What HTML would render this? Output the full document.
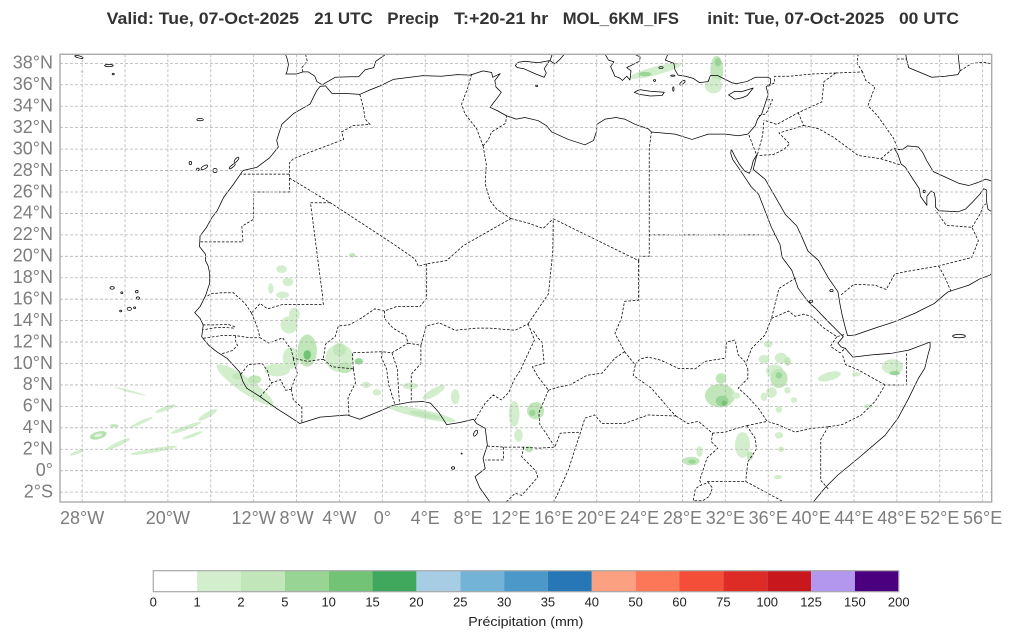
<!DOCTYPE html>
<html><head><meta charset="utf-8"><style>
html,body{margin:0;padding:0;background:#fff;}
svg{display:block;}
.tt{font-family:"Liberation Sans",sans-serif;font-weight:bold;font-size:17px;fill:#333;}
.yl{font-family:"Liberation Sans",sans-serif;font-size:18px;fill:#7d7d7d;text-anchor:end;}
.xl{font-family:"Liberation Sans",sans-serif;font-size:18px;fill:#7d7d7d;text-anchor:middle;}
.cl{font-family:"Liberation Sans",sans-serif;font-size:13px;fill:#222;text-anchor:middle;}
</style></head><body>
<svg xmlns="http://www.w3.org/2000/svg" width="1011" height="641" viewBox="0 0 1011 641">
<rect width="1011" height="641" fill="#fff"/>
<defs><clipPath id="c"><rect x="60" y="54.3" width="931.7" height="447.7"/></clipPath></defs>

<!-- title -->
<text class="tt" x="106.7" y="24" textLength="192.3" lengthAdjust="spacingAndGlyphs">Valid: Tue, 07-Oct-2025</text>
<text class="tt" x="314.3" y="24" textLength="58.4" lengthAdjust="spacingAndGlyphs">21 UTC</text>
<text class="tt" x="387.3" y="24" textLength="51.7" lengthAdjust="spacingAndGlyphs">Precip</text>
<text class="tt" x="454" y="24" textLength="94.3" lengthAdjust="spacingAndGlyphs">T:+20-21 hr</text>
<text class="tt" x="562.7" y="24" textLength="116.3" lengthAdjust="spacingAndGlyphs">MOL_6KM_IFS</text>
<text class="tt" x="707.3" y="24" textLength="177" lengthAdjust="spacingAndGlyphs">init: Tue, 07-Oct-2025</text>
<text class="tt" x="899" y="24" textLength="60" lengthAdjust="spacingAndGlyphs">00 UTC</text>

<g clip-path="url(#c)">
<g transform="matrix(10.72 0 0 -10.72 382.3 470.7)">
<!-- precipitation patches -->
<g stroke="none">
<ellipse cx="-28.5" cy="1.7" rx="0.7" ry="0.15" transform="rotate(20 -28.5 1.7)" fill="#d3eecd"/>
<ellipse cx="-26.5" cy="3.3" rx="0.8" ry="0.35" transform="rotate(15 -26.5 3.3)" fill="#b6e0ae"/>
<ellipse cx="-26.5" cy="3.3" rx="0.4" ry="0.15" transform="rotate(15 -26.5 3.3)" fill="#e6f5e3"/>
<ellipse cx="-24.6" cy="2.5" rx="1.2" ry="0.2" transform="rotate(25 -24.6 2.5)" fill="#d3eecd"/>
<ellipse cx="-21.3" cy="1.9" rx="2.2" ry="0.2" transform="rotate(10 -21.3 1.9)" fill="#d3eecd"/>
<ellipse cx="-20.2" cy="5.8" rx="1.0" ry="0.2" transform="rotate(20 -20.2 5.8)" fill="#d3eecd"/>
<ellipse cx="-18.3" cy="4.0" rx="1.5" ry="0.2" transform="rotate(20 -18.3 4.0)" fill="#d3eecd"/>
<ellipse cx="-17.7" cy="3.3" rx="1.0" ry="0.15" transform="rotate(20 -17.7 3.3)" fill="#d3eecd"/>
<ellipse cx="-16.3" cy="5.2" rx="1.0" ry="0.25" transform="rotate(30 -16.3 5.2)" fill="#d3eecd"/>
<ellipse cx="-22.5" cy="4.5" rx="1.2" ry="0.15" transform="rotate(25 -22.5 4.5)" fill="#d3eecd"/>
<ellipse cx="-23.5" cy="7.4" rx="1.5" ry="0.1" transform="rotate(-15 -23.5 7.4)" fill="#d3eecd"/>
<ellipse cx="-25.0" cy="4.2" rx="0.4" ry="0.15" fill="#c0e6b9"/>
<ellipse cx="-12.8" cy="8.0" rx="3.2" ry="0.7" transform="rotate(-35 -12.8 8.0)" fill="#d3eecd"/>
<ellipse cx="-13.5" cy="8.8" rx="0.5" ry="0.3" fill="#c0e6b9"/>
<ellipse cx="-11.9" cy="8.5" rx="0.6" ry="0.4" fill="#c0e6b9"/>
<ellipse cx="-9.8" cy="9.4" rx="1.2" ry="0.6" fill="#d3eecd"/>
<ellipse cx="-8.5" cy="10.5" rx="0.8" ry="1.0" fill="#d3eecd"/>
<ellipse cx="-7.0" cy="11.2" rx="0.9" ry="1.5" fill="#c0e6b9"/>
<ellipse cx="-7.0" cy="10.8" rx="0.35" ry="0.45" fill="#72c375"/>
<ellipse cx="-8.7" cy="13.6" rx="0.8" ry="0.8" fill="#d3eecd"/>
<ellipse cx="-8.2" cy="14.6" rx="0.5" ry="0.6" fill="#d3eecd"/>
<ellipse cx="-4.0" cy="10.5" rx="1.3" ry="1.3" fill="#d3eecd"/>
<ellipse cx="-4.0" cy="11.3" rx="0.6" ry="0.6" fill="#c0e6b9"/>
<ellipse cx="-3.5" cy="9.6" rx="0.7" ry="0.5" fill="#c0e6b9"/>
<ellipse cx="-2.2" cy="10.2" rx="0.4" ry="0.3" fill="#99d595"/>
<ellipse cx="-1.5" cy="8.0" rx="0.4" ry="0.3" fill="#d3eecd"/>
<ellipse cx="-10.4" cy="17.0" rx="0.25" ry="0.5" fill="#d3eecd"/>
<ellipse cx="-9.3" cy="16.4" rx="0.6" ry="0.3" fill="#d3eecd"/>
<ellipse cx="-8.8" cy="17.6" rx="0.5" ry="0.4" fill="#d3eecd"/>
<ellipse cx="-9.4" cy="18.8" rx="0.5" ry="0.35" fill="#d3eecd"/>
<ellipse cx="-2.8" cy="20.1" rx="0.3" ry="0.2" fill="#c0e6b9"/>
<ellipse cx="3.7" cy="5.3" rx="3.2" ry="0.4" transform="rotate(-12 3.7 5.3)" fill="#d3eecd"/>
<ellipse cx="4.0" cy="5.2" rx="1.5" ry="0.25" transform="rotate(-12 4.0 5.2)" fill="#c0e6b9"/>
<ellipse cx="4.8" cy="7.3" rx="1.2" ry="0.35" transform="rotate(30 4.8 7.3)" fill="#d3eecd"/>
<ellipse cx="6.8" cy="6.9" rx="0.4" ry="0.7" fill="#d3eecd"/>
<ellipse cx="2.6" cy="7.9" rx="0.7" ry="0.3" fill="#d3eecd"/>
<ellipse cx="-0.5" cy="7.3" rx="0.4" ry="0.3" fill="#d3eecd"/>
<ellipse cx="12.3" cy="5.3" rx="0.5" ry="1.2" fill="#d3eecd"/>
<ellipse cx="12.7" cy="3.3" rx="0.4" ry="0.6" fill="#d3eecd"/>
<ellipse cx="14.3" cy="5.6" rx="0.8" ry="0.8" fill="#c0e6b9"/>
<ellipse cx="14.0" cy="5.4" rx="0.3" ry="0.3" fill="#99d595"/>
<ellipse cx="13.7" cy="2.0" rx="0.35" ry="0.3" fill="#c0e6b9"/>
<ellipse cx="31.5" cy="7.0" rx="1.4" ry="1.1" fill="#c0e6b9"/>
<ellipse cx="31.7" cy="6.5" rx="0.6" ry="0.5" fill="#99d595"/>
<ellipse cx="31.9" cy="6.3" rx="0.25" ry="0.25" fill="#72c375"/>
<ellipse cx="31.6" cy="8.6" rx="0.5" ry="0.5" fill="#c0e6b9"/>
<ellipse cx="33.0" cy="7.0" rx="0.4" ry="0.3" fill="#d3eecd"/>
<ellipse cx="28.8" cy="0.9" rx="0.8" ry="0.4" fill="#c0e6b9"/>
<ellipse cx="28.9" cy="0.85" rx="0.35" ry="0.2" fill="#99d595"/>
<ellipse cx="29.6" cy="1.8" rx="0.3" ry="0.5" fill="#d3eecd"/>
<ellipse cx="33.6" cy="2.4" rx="0.7" ry="1.2" fill="#d3eecd"/>
<ellipse cx="34.3" cy="1.4" rx="0.3" ry="0.4" fill="#c0e6b9"/>
<ellipse cx="37.0" cy="3.3" rx="0.4" ry="0.3" fill="#d3eecd"/>
<ellipse cx="37.2" cy="2.0" rx="0.3" ry="0.25" fill="#d3eecd"/>
<ellipse cx="36.9" cy="-0.6" rx="0.4" ry="0.2" fill="#d3eecd"/>
<ellipse cx="36.0" cy="11.8" rx="0.4" ry="0.3" fill="#d3eecd"/>
<ellipse cx="35.6" cy="10.4" rx="0.5" ry="0.4" fill="#d3eecd"/>
<ellipse cx="37.2" cy="10.5" rx="0.6" ry="0.5" fill="#d3eecd"/>
<ellipse cx="37.8" cy="10.2" rx="0.3" ry="0.4" fill="#c0e6b9"/>
<ellipse cx="36.6" cy="9.3" rx="0.8" ry="0.6" fill="#d3eecd"/>
<ellipse cx="37.0" cy="8.6" rx="0.8" ry="0.9" fill="#c0e6b9"/>
<ellipse cx="37.0" cy="8.9" rx="0.3" ry="0.3" fill="#99d595"/>
<ellipse cx="36.3" cy="7.3" rx="0.5" ry="0.5" fill="#d3eecd"/>
<ellipse cx="37.8" cy="7.5" rx="0.3" ry="0.3" fill="#d3eecd"/>
<ellipse cx="35.6" cy="6.9" rx="0.3" ry="0.4" fill="#d3eecd"/>
<ellipse cx="38.4" cy="6.6" rx="0.3" ry="0.25" fill="#d3eecd"/>
<ellipse cx="37.0" cy="5.7" rx="0.3" ry="0.3" fill="#d3eecd"/>
<ellipse cx="41.7" cy="8.8" rx="1.1" ry="0.4" transform="rotate(15 41.7 8.8)" fill="#d3eecd"/>
<ellipse cx="47.6" cy="9.7" rx="1.0" ry="0.7" fill="#d3eecd"/>
<ellipse cx="47.8" cy="9.1" rx="0.5" ry="0.2" fill="#99d595"/>
<ellipse cx="44.2" cy="9.0" rx="0.4" ry="0.2" fill="#d3eecd"/>
<ellipse cx="45.3" cy="6.0" rx="0.4" ry="0.2" fill="#d3eecd"/>
<ellipse cx="25.5" cy="37.3" rx="2.5" ry="0.4" transform="rotate(15 25.5 37.3)" fill="#d3eecd"/>
<ellipse cx="24.5" cy="37.0" rx="0.6" ry="0.2" fill="#99d595"/>
<ellipse cx="31.2" cy="37.4" rx="0.6" ry="1.3" fill="#c0e6b9"/>
<ellipse cx="31.3" cy="38.1" rx="0.3" ry="0.4" fill="#99d595"/>
<ellipse cx="30.9" cy="35.9" rx="0.8" ry="0.7" fill="#d3eecd"/>
<ellipse cx="-28.0" cy="37.2" rx="0.15" ry="0.1" fill="#c0e6b9"/>
</g>

<!-- coastlines -->
<g fill="none" stroke="#000" stroke-width="0.07" stroke-linejoin="round">
<polyline points="10.1,-3.0 9.1,-1.6 8.65,-0.56 9.6,0.2 9.4,1.15 9.8,2.4 9.6,3.95 8.8,4.4 8.5,4.8 7.25,4.5 6.0,4.3 5.3,5.4 4.5,6.3 3.8,6.45 2.6,6.4 1.0,6.1 -0.2,5.57 -2.1,4.8 -3.3,5.2 -5.8,5.0 -7.7,4.4 -8.6,5.0 -9.85,5.8 -11.4,6.9 -12.65,7.7 -13.0,8.3 -13.3,9.2 -13.9,9.86 -14.5,10.5 -15.45,11.1 -16.2,11.7 -16.85,12.5 -16.7,13.6 -17.0,14.2 -17.5,14.75 -17.0,15.3 -16.5,16.3 -16.1,17.5 -16.1,18.4 -16.25,19.1 -16.5,19.6 -16.5,20.2 -17.05,20.9 -17.0,21.9 -16.4,22.7 -15.9,23.6 -15.4,24.25 -14.8,25.5 -13.9,26.7 -13.0,28.0 -11.7,28.3 -10.5,29.2 -9.7,30.2 -9.85,30.8 -9.38,32.3 -8.3,33.3 -6.74,34.2 -6.12,35.45 -5.8,35.85 -5.3,35.9 -4.7,35.2 -3.5,35.2 -2.1,35.1 -1.2,35.5 -0.2,35.9 1.03,36.5 3.8,36.85 5.5,36.8 7.0,36.95 8.2,36.9 9.4,37.3 10.2,37.15 10.3,36.7 11.0,37.05 10.5,36.4 10.6,35.8 11.1,35.3 10.6,34.6 10.05,33.9 10.7,33.6 11.6,33.1 12.5,32.8 13.3,32.95 14.55,32.65 15.3,32.2 15.8,31.6 17.35,30.9 18.9,30.4 19.7,30.8 20.0,31.7 20.0,32.3 20.8,32.8 21.8,32.95 22.6,32.8 23.6,32.3 24.8,31.9 25.1,31.6 27.3,31.4 28.9,30.9 30.4,31.4 32.0,31.4 33.2,31.25 34.1,31.4 34.8,32.2 35.0,32.8 35.4,33.3 35.7,34.2 36.0,35.1 35.8,35.8 36.2,36.1 36.2,36.6 35.9,36.7 34.8,36.7 34.0,36.3 33.0,36.1 32.6,36.2 31.3,36.85 30.6,36.85 30.4,36.3 29.6,36.2 29.0,36.6 28.3,36.8 27.6,36.9 27.3,37.4 27.2,38.0 26.4,38.3 26.7,39.0"/>
<polyline points="32.55,29.95 32.5,29.6 32.7,29.0 33.2,28.3 33.8,27.4 34.4,26.5 35.1,25.8 35.7,24.25 36.3,22.7 37.1,21.1 37.3,19.9 38.2,18.7 38.8,17.0 39.7,15.8 40.4,15.15 41.6,13.9 42.4,13.1 43.0,12.5 42.5,11.9 42.8,11.55 43.2,11.4 43.9,10.6 45.65,10.8 47.5,10.95 49.1,11.25 51.1,12.0 51.1,11.5 50.9,10.8 50.6,9.55 50.0,8.6 49.1,6.75 48.1,4.9 46.9,3.3 44.4,1.16 42.5,-0.4 41.3,-1.6 40.05,-3.1"/>
<polyline points="32.6,29.9 32.9,29.3 33.3,28.6 33.8,27.95 34.25,27.75 34.45,28.3 34.6,28.9 34.95,29.5 34.8,28.9 34.6,28.1 35.7,27.2 36.6,25.65 37.6,23.9 38.65,22.85 39.1,21.9 39.7,20.5 40.7,19.6 41.6,18.0 42.5,16.7 42.7,15.5 42.9,14.5 43.2,13.3 43.4,12.6 44.1,12.66 45.95,13.3 47.8,13.9 49.7,14.7 51.5,15.6 52.3,16.3 52.8,16.7 54.7,17.3 55.75,17.9 56.7,18.25 57.2,18.8"/>
<polyline points="57.5,23.7 56.5,24.4 56.35,25.2 56.35,26.2 56.1,26.3 55.75,25.8 55.0,25.0 54.4,24.4 53.7,24.15 51.9,24.25 51.6,24.6 51.6,25.3 51.5,25.9 51.2,26.1 50.8,25.6 50.8,24.75 50.2,25.6 50.1,26.3 49.5,27.2 48.8,28.3 48.4,28.6 48.1,29.5 47.8,30.0 48.5,29.95 49.0,30.3 50.0,30.2 50.4,29.7 50.8,28.9 51.4,27.9 52.5,27.4 53.8,26.8 54.7,26.6 55.6,26.9 56.3,27.2 57.2,26.9"/>
<polyline points="48.8,39.0 48.9,38.4 49.1,37.6 50.3,37.1 51.25,36.7 52.5,36.8 53.7,36.95 53.9,37.3 53.8,38.0 53.7,39.0"/>
<polyline points="-9.1,39.0 -8.9,38.5 -8.75,37.9 -8.9,37.2 -9.0,37.0 -8.0,37.0 -7.4,37.2 -6.9,37.2 -6.3,36.8 -6.1,36.3 -5.6,36.0 -5.35,36.15 -4.4,36.7 -3.0,36.75 -2.2,36.75 -1.6,37.4 -0.8,37.6 -0.6,38.2 0.2,38.75 0.1,39.0"/>
<polygon points="12.4,37.8 12.6,37.6 13.2,37.5 14.2,37.05 15.1,36.7 15.3,37.1 15.1,37.5 15.6,38.25 14.5,38.05 13.3,38.2 12.7,38.1"/>
<polyline points="15.9,39.0 15.65,38.25 16.1,37.95 16.6,38.4 17.1,39.0"/>
<polygon points="23.5,35.3 24.0,35.55 25.0,35.4 26.3,35.3 26.1,35.0 25.0,34.95 24.0,35.1"/>
<polygon points="32.3,35.05 32.9,34.65 33.6,34.8 34.05,35.0 34.6,35.7 33.5,35.35 32.9,35.4"/>
<polyline points="20.7,39.0 21.1,38.3 21.6,38.15 21.3,37.7 21.7,36.8 22.2,36.6 22.4,36.4 22.8,36.8 23.1,36.45 23.2,37.3 22.8,37.6 23.4,37.9 24.0,38.2 24.05,38.6 23.2,39.0"/>
<ellipse cx="-17.0" cy="32.75" rx="0.3" ry="0.1"/>
<ellipse cx="-17.9" cy="28.7" rx="0.12" ry="0.15"/>
<ellipse cx="-17.2" cy="28.1" rx="0.12" ry="0.12"/>
<ellipse cx="-16.6" cy="28.3" rx="0.35" ry="0.15" transform="rotate(30 -16.6 28.3)"/>
<ellipse cx="-15.6" cy="28.0" rx="0.2" ry="0.2"/>
<ellipse cx="-14.0" cy="28.4" rx="0.35" ry="0.1" transform="rotate(40 -14.0 28.4)"/>
<ellipse cx="-13.6" cy="29.0" rx="0.3" ry="0.12" transform="rotate(50 -13.6 29.0)"/>
<ellipse cx="-28.3" cy="38.6" rx="0.4" ry="0.1" transform="rotate(-15 -28.3 38.6)"/>
<ellipse cx="-25.5" cy="37.8" rx="0.4" ry="0.1"/>
<ellipse cx="-25.1" cy="37.0" rx="0.1" ry="0.08"/>
<ellipse cx="-25.2" cy="17.05" rx="0.2" ry="0.12"/>
<ellipse cx="-24.3" cy="16.6" rx="0.1" ry="0.08"/>
<ellipse cx="-22.9" cy="16.7" rx="0.12" ry="0.12"/>
<ellipse cx="-22.8" cy="16.1" rx="0.15" ry="0.12"/>
<ellipse cx="-23.6" cy="15.1" rx="0.2" ry="0.15"/>
<ellipse cx="-24.4" cy="14.9" rx="0.1" ry="0.08"/>
<ellipse cx="-23.1" cy="15.2" rx="0.1" ry="0.08"/>
<ellipse cx="8.7" cy="3.5" rx="0.3" ry="0.15" transform="rotate(60 8.7 3.5)"/>
<ellipse cx="6.6" cy="0.25" rx="0.15" ry="0.12"/>
<ellipse cx="7.4" cy="1.6" rx="0.05" ry="0.05"/>
<ellipse cx="53.8" cy="12.55" rx="0.6" ry="0.15"/>
<ellipse cx="50.55" cy="26.05" rx="0.1" ry="0.12"/>
<ellipse cx="14.4" cy="35.9" rx="0.1" ry="0.06"/>
<ellipse cx="1.4" cy="38.95" rx="0.2" ry="0.15"/>
<ellipse cx="28.0" cy="36.2" rx="0.3" ry="0.12" transform="rotate(40 28.0 36.2)"/>
<ellipse cx="27.15" cy="35.6" rx="0.06" ry="0.2"/>
<ellipse cx="27.1" cy="36.85" rx="0.2" ry="0.06"/>
<ellipse cx="25.4" cy="36.4" rx="0.1" ry="0.08"/>
<ellipse cx="26.0" cy="37.6" rx="0.2" ry="0.08"/>
<ellipse cx="40.0" cy="15.8" rx="0.15" ry="0.1"/>
<ellipse cx="41.9" cy="16.8" rx="0.15" ry="0.1"/>
</g>

<!-- borders -->
<path fill="none" stroke="#000" stroke-width="0.07" stroke-dasharray="0.25 0.15" d="
M-2.1,35.1 L-1.77,33.9 -1.6,32.8 -1.15,32.3 -2.7,32.2 -3.8,31.6 -3.6,30.9 -5.2,30.3 -6.4,29.85 -8.3,29.1 -8.67,28.7 -8.67,27.67 -13.2,27.67
M-8.67,27.67 L-8.67,26.0 -12.0,26.0 -12.0,23.45 -13.1,22.8 -13.0,21.35 -17.0,21.35
M-8.67,27.3 L-4.85,25.0 1.03,21.15 3.05,19.75 3.36,19.07 4.14,19.3 6.0,19.6 7.56,21.0 11.99,23.52
M-4.85,25.0 L-6.7,25.0 -5.6,16.5 -5.5,15.5 -9.3,15.5 -10.7,15.1 -11.4,15.6 -12.2,14.7
M-12.2,14.7 L-12.8,15.6 -13.9,16.6 -15.0,16.6 -16.0,16.5 -16.45,16.2
M8.34,37.0 L8.0,35.8 7.4,34.2 7.7,33.3 8.8,31.9 9.4,30.3
M9.4,30.3 L9.9,30.9 10.2,31.6 11.5,32.4 11.6,33.1
M9.4,30.3 L9.7,28.6 9.6,26.75 10.05,25.2 10.67,24.4 11.99,23.52
M4.14,19.3 L4.14,16.1 3.5,15.3 1.3,15.3 0.2,14.9
M0.2,14.9 L0.2,14.2 1.0,13.3 2.2,12.6 2.4,11.9
M0.2,14.9 L-0.7,15.1 -2.0,14.2 -3.1,13.6 -4.1,13.5 -4.4,12.5 -5.3,11.8 -5.5,10.4
M-12.2,14.7 L-11.7,13.5 -11.4,12.4 -10.6,11.9 -9.3,12.4 -8.5,11.3 -8.3,10.5 -7.0,10.2 -5.5,10.4
M-16.75,13.6 L-15.5,13.6 -14.4,13.65 -13.8,13.45 -13.8,13.3 -14.6,13.35 -15.5,13.35 -16.7,13.15
M-16.7,12.35 L-15.0,12.6 -13.7,12.6 -12.3,12.4 -11.4,12.4
M-13.7,12.6 L-13.7,12.0 -13.5,11.7 -14.0,11.2 -15.0,10.9
M-13.2,9.0 L-12.5,9.9 -11.2,10.0 -10.7,9.3 -10.5,8.5 -10.3,8.2
M-11.4,6.9 L-10.6,7.8 -10.3,8.2 -9.5,8.5 -9.0,7.5 -8.5,7.6
M-8.5,7.6 L-8.3,6.6 -7.5,5.9 -7.5,4.4
M-8.5,7.6 L-8.2,8.5 -7.9,9.0 -8.2,10.0 -8.3,10.5
M-5.5,10.4 L-4.7,9.7 -2.7,9.5
M-2.7,9.5 L-2.5,8.2 -3.2,6.8 -3.1,5.1
M-2.7,9.5 L-2.8,11.0 0.0,11.1 0.9,11.0 2.4,11.9
M0.0,11.1 L-0.1,10.6 0.4,9.5 0.6,8.0 1.2,6.1
M0.9,11.0 L1.4,9.5 1.6,6.2
M2.4,11.9 L3.6,11.7 3.6,10.0 2.7,9.0 2.7,6.4
M3.6,11.7 L4.1,13.5 5.3,13.8 6.8,13.1 8.8,13.3 10.0,13.3 12.4,13.1 13.6,13.7
M13.6,13.7 L15.5,16.5 15.9,20.4 15.95,23.5
M11.99,23.52 L13.6,23.1 15.0,22.6 15.95,23.5
M15.95,23.5 L23.9,19.6 24.0,20.0 24.9,20.0 24.9,22.0 24.9,30.0 25.1,31.6
M24.9,22.0 L36.8,22.0
M23.9,19.6 L23.9,15.9 22.6,15.8 22.3,14.2 21.7,12.8 22.6,11.1
M13.6,13.7 L14.2,12.2 13.3,10.3 12.9,9.4 12.3,8.5 11.8,7.3 11.1,6.6 10.35,7.06 9.6,6.3 8.8,5.0 8.6,4.6
M14.1,13.05 L14.5,12.4 14.9,12.0 15.0,11.0 15.1,10.0 14.0,9.7 14.5,8.8 15.5,7.5
M15.5,7.5 L16.4,7.8 17.5,8.0 19.1,8.9 20.5,9.1 21.7,10.5 22.6,11.1
M22.6,11.1 L23.6,9.86 23.4,8.9 25.1,7.7 27.0,5.5 27.4,5.1
M27.4,5.1 L28.5,4.4 29.5,4.6 30.8,3.5 32.0,3.6 32.9,3.9 34.0,4.2
M27.4,5.1 L24.8,5.2 22.6,4.4 20.5,4.4 19.8,5.2 18.9,4.9 18.5,3.6
M18.5,3.6 L18.0,2.1 17.4,0.2 16.3,-2.3 15.9,-3.0
M15.5,7.5 L14.6,5.4 14.7,4.3 15.2,3.6 16.1,2.2 16.6,3.5 18.5,3.6
M9.8,2.3 L11.3,2.2 13.2,2.2 14.5,2.1 16.1,2.2
M11.3,2.2 L11.3,1.0 9.6,1.0
M13.2,2.2 L13.0,1.3 14.3,0.0 14.5,-0.6 13.9,-1.3 13.0,-2.3 12.4,-2.1 11.7,-2.8 11.3,-3.0
M23.6,9.9 L24.0,10.4 24.8,10.6 26.0,10.3 27.6,9.55 29.2,9.5 30.1,10.2 32.0,10.5 32.1,12.0 32.9,12.2 33.2,10.8 33.8,10.2 34.1,9.5
M34.0,10.2 L34.45,11.4 35.7,12.66 36.3,14.2 36.5,15.0 37.0,17.0 38.6,18.0
M36.3,14.2 L37.9,14.9 38.5,14.4 39.3,14.6 40.0,14.4 41.2,13.3 42.4,12.5 43.1,12.7
M42.4,12.5 L41.8,11.6 42.7,11.0 43.25,11.45
M34.1,9.5 L34.1,8.6 33.2,7.7 34.0,7.0 35.1,5.8 35.9,4.6 36.9,4.3 38.5,3.6 40.05,3.95 41.6,4.1
M34.0,4.2 L35.9,4.6
M34.0,4.2 L34.8,3.0 34.9,2.0 34.1,0.84 33.9,-1.0
M30.3,-1.0 L33.9,-1.0 37.6,-3.0
M30.8,3.5 L30.7,2.7 31.3,2.1 30.3,1.2 29.9,0.0 29.6,-0.9 29.8,-1.3
M29.6,-1.4 L30.4,-1.1 30.8,-1.6 30.5,-2.4 29.9,-2.8 29.0,-2.8 29.2,-1.7 29.6,-1.4
M41.6,4.1 L42.9,4.3 44.7,5.2 46.0,6.5 46.9,8.0 48.9,8.0 48.9,11.1
M46.9,8.0 L44.4,9.4 43.2,9.9 42.9,10.9
M41.6,4.1 L40.9,2.9 40.9,-0.9 41.6,-1.7
M34.2,31.3 L34.9,29.5
M35.0,29.5 L35.4,31.0 35.5,31.5 35.6,32.7
M35.1,33.1 L35.8,33.3 36.4,34.6 35.9,34.6
M36.0,35.85 L36.6,36.2 36.6,36.8 38.0,36.8 40.0,37.0 42.3,37.1
M42.3,37.1 L41.2,36.3 41.0,34.4 38.8,33.4 36.8,32.3 35.6,32.7
M38.8,33.4 L39.3,32.2 37.0,31.5 38.0,30.5 37.5,30.0 36.5,29.5 35.0,29.4
M39.3,32.2 L40.7,31.9 42.1,31.1 44.4,29.4 46.5,29.1 47.7,30.1 48.0,30.0
M46.5,29.1 L48.4,28.5
M42.3,37.1 L44.8,37.2 45.1,36.4 45.95,35.8 45.3,34.05 46.2,33.1 47.2,31.7 47.7,31.0 48.1,30.0 48.5,29.9
M44.8,37.2 L44.3,38.0 44.4,39.0
M48.0,38.4 L48.9,38.4
M53.9,37.3 L55.0,38.0 56.2,38.1 57.0,37.9
M42.8,16.4 L44.0,17.4 46.0,17.3 47.0,16.9 47.8,18.35 49.0,18.6 51.9,19.1 55.0,19.9 55.6,21.45 55.0,22.7 52.6,22.9 51.6,24.3
M51.9,19.1 L52.5,18.0 53.1,16.6
M55.0,22.7 L55.8,24.0 56.0,24.6 56.3,24.9
M-7.4,37.2 L-7.5,37.6 -7.0,38.2 -7.2,39.0
"/>
</g>

<!-- gridlines -->
<path fill="none" stroke="#b4b4b4" stroke-width="0.8" stroke-dasharray="3 2" d="
M82.14,54.3V502 M125.02,54.3V502 M167.9,54.3V502 M210.78,54.3V502 M253.66,54.3V502 M296.54,54.3V502 M339.42,54.3V502 M382.3,54.3V502 M425.18,54.3V502 M468.06,54.3V502 M510.94,54.3V502 M553.82,54.3V502 M596.7,54.3V502 M639.58,54.3V502 M682.46,54.3V502 M725.34,54.3V502 M768.22,54.3V502 M811.1,54.3V502 M853.98,54.3V502 M896.86,54.3V502 M939.74,54.3V502 M982.62,54.3V502
M60,63.34H991.7 M60,84.78H991.7 M60,106.22H991.7 M60,127.66H991.7 M60,149.1H991.7 M60,170.54H991.7 M60,191.98H991.7 M60,213.42H991.7 M60,234.86H991.7 M60,256.3H991.7 M60,277.74H991.7 M60,299.18H991.7 M60,320.62H991.7 M60,342.06H991.7 M60,363.5H991.7 M60,384.94H991.7 M60,406.38H991.7 M60,427.82H991.7 M60,449.26H991.7 M60,470.7H991.7 M60,492.14H991.7"/>
</g>

<!-- frame -->
<rect x="60" y="54.3" width="931.7" height="447.7" fill="none" stroke="#ababab" stroke-width="1.4"/>

<!-- y labels -->
<text class="yl" x="53" y="68.6">38°N</text>
<text class="yl" x="53" y="90.1">36°N</text>
<text class="yl" x="53" y="111.5">34°N</text>
<text class="yl" x="53" y="133">32°N</text>
<text class="yl" x="53" y="154.4">30°N</text>
<text class="yl" x="53" y="175.8">28°N</text>
<text class="yl" x="53" y="197.3">26°N</text>
<text class="yl" x="53" y="218.7">24°N</text>
<text class="yl" x="53" y="240.2">22°N</text>
<text class="yl" x="53" y="261.6">20°N</text>
<text class="yl" x="53" y="283">18°N</text>
<text class="yl" x="53" y="304.5">16°N</text>
<text class="yl" x="53" y="325.9">14°N</text>
<text class="yl" x="53" y="347.4">12°N</text>
<text class="yl" x="53" y="368.8">10°N</text>
<text class="yl" x="53" y="390.2">8°N</text>
<text class="yl" x="53" y="411.7">6°N</text>
<text class="yl" x="53" y="433.1">4°N</text>
<text class="yl" x="53" y="454.6">2°N</text>
<text class="yl" x="53" y="476">0°</text>
<text class="yl" x="53" y="497.4">2°S</text>

<!-- x labels -->
<text class="xl" x="82.14" y="524">28°W</text>
<text class="xl" x="167.9" y="524">20°W</text>
<text class="xl" x="253.66" y="524">12°W</text>
<text class="xl" x="296.54" y="524">8°W</text>
<text class="xl" x="339.42" y="524">4°W</text>
<text class="xl" x="382.3" y="524">0°</text>
<text class="xl" x="425.18" y="524">4°E</text>
<text class="xl" x="468.06" y="524">8°E</text>
<text class="xl" x="510.94" y="524">12°E</text>
<text class="xl" x="553.82" y="524">16°E</text>
<text class="xl" x="596.7" y="524">20°E</text>
<text class="xl" x="639.58" y="524">24°E</text>
<text class="xl" x="682.46" y="524">28°E</text>
<text class="xl" x="725.34" y="524">32°E</text>
<text class="xl" x="768.22" y="524">36°E</text>
<text class="xl" x="811.1" y="524">40°E</text>
<text class="xl" x="853.98" y="524">44°E</text>
<text class="xl" x="896.86" y="524">48°E</text>
<text class="xl" x="939.74" y="524">52°E</text>
<text class="xl" x="982.62" y="524">56°E</text>

<!-- colorbar -->
<g>
<rect x="153.3" y="570.7" width="43.85" height="21" fill="#ffffff"/>
<rect x="197.15" y="570.7" width="43.85" height="21" fill="#d3eecd"/>
<rect x="241" y="570.7" width="43.85" height="21" fill="#c0e6b9"/>
<rect x="284.85" y="570.7" width="43.85" height="21" fill="#98d594"/>
<rect x="328.7" y="570.7" width="43.85" height="21" fill="#72c375"/>
<rect x="372.55" y="570.7" width="43.85" height="21" fill="#3fa85c"/>
<rect x="416.4" y="570.7" width="43.85" height="21" fill="#a6cde3"/>
<rect x="460.25" y="570.7" width="43.85" height="21" fill="#74b3d8"/>
<rect x="504.1" y="570.7" width="43.85" height="21" fill="#4c99c9"/>
<rect x="547.95" y="570.7" width="43.85" height="21" fill="#2777b6"/>
<rect x="591.8" y="570.7" width="43.85" height="21" fill="#fca082"/>
<rect x="635.65" y="570.7" width="43.85" height="21" fill="#fc7757"/>
<rect x="679.5" y="570.7" width="43.85" height="21" fill="#f44d38"/>
<rect x="723.35" y="570.7" width="43.85" height="21" fill="#dd2b25"/>
<rect x="767.2" y="570.7" width="43.85" height="21" fill="#c9181d"/>
<rect x="811.05" y="570.7" width="43.85" height="21" fill="#b397ee"/>
<rect x="854.9" y="570.7" width="43.85" height="21" fill="#4b0080"/>
<rect x="153.3" y="570.7" width="745.45" height="21" fill="none" stroke="#a8a8a8" stroke-width="1.2"/>
</g>
<text class="cl" x="153.3" y="606.5">0</text>
<text class="cl" x="197.15" y="606.5">1</text>
<text class="cl" x="241" y="606.5">2</text>
<text class="cl" x="284.85" y="606.5">5</text>
<text class="cl" x="328.7" y="606.5">10</text>
<text class="cl" x="372.55" y="606.5">15</text>
<text class="cl" x="416.4" y="606.5">20</text>
<text class="cl" x="460.25" y="606.5">25</text>
<text class="cl" x="504.1" y="606.5">30</text>
<text class="cl" x="547.95" y="606.5">35</text>
<text class="cl" x="591.8" y="606.5">40</text>
<text class="cl" x="635.65" y="606.5">50</text>
<text class="cl" x="679.5" y="606.5">60</text>
<text class="cl" x="723.35" y="606.5">75</text>
<text class="cl" x="767.2" y="606.5">100</text>
<text class="cl" x="811.05" y="606.5">125</text>
<text class="cl" x="854.9" y="606.5">150</text>
<text class="cl" x="898.75" y="606.5">200</text>
<text class="cl" x="525.8" y="626" textLength="115" lengthAdjust="spacingAndGlyphs">Précipitation (mm)</text>
</svg>
</body></html>
